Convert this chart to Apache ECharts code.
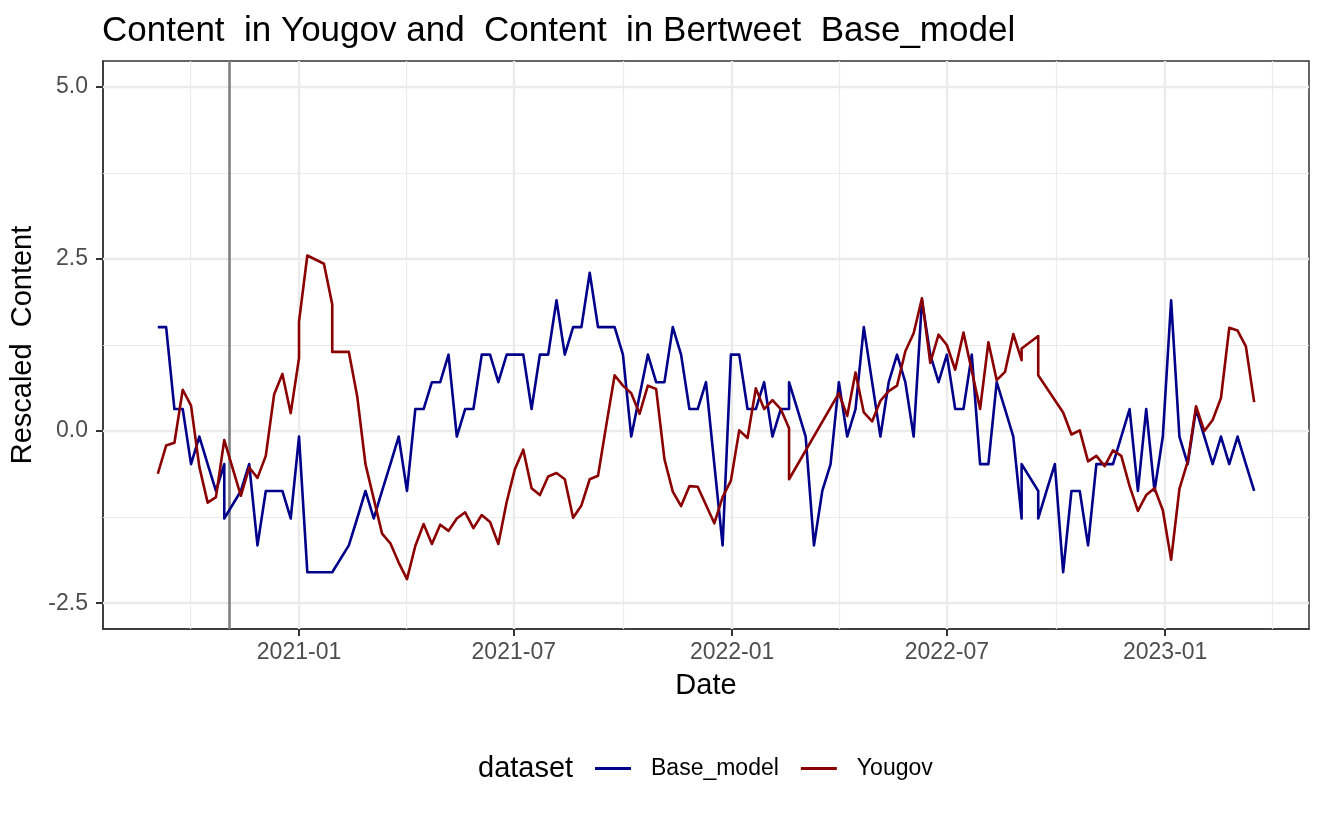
<!DOCTYPE html>
<html><head><meta charset="utf-8">
<script src="https://cdn.jsdelivr.net/npm/echarts@6/dist/echarts.min.js"></script>
<style>html,body{margin:0;padding:0;background:#fff}#c{width:1326px;height:819px}</style>
</head><body><div id="c"></div>
<script>
const baseDates = ['2020-09-04','2020-09-11','2020-09-18','2020-09-25','2020-10-02','2020-10-09','2020-10-16','2020-10-23','2020-10-30','2020-10-30',
'2020-11-13','2020-11-20','2020-11-27','2020-12-04','2020-12-11','2020-12-18','2020-12-25','2021-01-01','2021-01-08','2021-01-15',
'2021-01-22','2021-01-29','2021-02-12','2021-02-19','2021-02-26','2021-03-05','2021-03-12','2021-03-19','2021-03-26','2021-04-02',
'2021-04-09','2021-04-16','2021-04-23','2021-04-30','2021-05-07','2021-05-14','2021-05-21','2021-05-28','2021-06-04','2021-06-11',
'2021-06-18','2021-06-25','2021-07-02','2021-07-09','2021-07-16','2021-07-23','2021-07-30','2021-08-06','2021-08-13','2021-08-20',
'2021-08-27','2021-09-03','2021-09-10','2021-09-17','2021-09-24','2021-10-01','2021-10-08','2021-10-22','2021-10-29','2021-11-05',
'2021-11-12','2021-11-19','2021-11-26','2021-12-03','2021-12-10','2021-12-17','2021-12-24','2021-12-31','2022-01-07','2022-01-14',
'2022-01-21','2022-01-28','2022-02-04','2022-02-11','2022-02-18','2022-02-18','2022-02-25','2022-03-04','2022-03-11','2022-03-18',
'2022-03-25','2022-04-01','2022-04-08','2022-04-15','2022-04-22','2022-04-29','2022-05-06','2022-05-13','2022-05-20','2022-05-27',
'2022-06-03','2022-06-10','2022-06-17','2022-06-24','2022-07-01','2022-07-08','2022-07-15','2022-07-22','2022-07-29','2022-08-05',
'2022-08-12','2022-08-19','2022-08-26','2022-09-02','2022-09-02','2022-09-16','2022-09-16','2022-09-23','2022-09-30','2022-10-07',
'2022-10-14','2022-10-21','2022-10-28','2022-11-04','2022-11-11','2022-11-18','2022-11-25','2022-12-02','2022-12-09','2022-12-16',
'2022-12-23','2022-12-30','2023-01-06','2023-01-13','2023-01-20','2023-01-27','2023-02-03','2023-02-10','2023-02-17','2023-02-24',
'2023-03-03','2023-03-10','2023-03-17'];
const baseValues = [1.51,1.51,0.32,0.32,-0.48,-0.08,-0.48,-0.87,-0.48,-1.27,
-0.87,-0.48,-1.66,-0.87,-0.87,-0.87,-1.27,-0.08,-2.05,-2.05,
-2.05,-2.05,-1.66,-1.27,-0.87,-1.27,-0.87,-0.48,-0.08,-0.87,
0.32,0.32,0.71,0.71,1.11,-0.08,0.32,0.32,1.11,1.11,
0.71,1.11,1.11,1.11,0.32,1.11,1.11,1.90,1.11,1.51,
1.51,2.30,1.51,1.51,1.51,1.11,-0.08,1.11,0.71,0.71,
1.51,1.11,0.32,0.32,0.71,-0.48,-1.66,1.11,1.11,0.32,
0.32,0.71,-0.08,0.32,0.32,0.71,0.32,-0.08,-1.66,-0.87,
-0.48,0.71,-0.08,0.32,1.51,0.71,-0.08,0.71,1.11,0.71,
-0.08,1.90,1.11,0.71,1.11,0.32,0.32,1.11,-0.48,-0.48,
0.71,0.32,-0.08,-1.27,-0.48,-0.87,-1.27,-0.87,-0.48,-2.05,
-0.87,-0.87,-1.66,-0.48,-0.48,-0.48,-0.08,0.32,-0.87,0.32,
-0.87,-0.08,1.90,-0.08,-0.48,0.32,-0.08,-0.48,-0.08,-0.48,
-0.08,-0.48,-0.87];

const yougovDates = ['2020-09-04','2020-09-11','2020-09-18','2020-09-25','2020-10-02','2020-10-09','2020-10-16','2020-10-23','2020-10-30','2020-11-13',
'2020-11-20','2020-11-27','2020-12-04','2020-12-11','2020-12-18','2020-12-25','2021-01-01','2021-01-01','2021-01-08','2021-01-22',
'2021-01-29','2021-01-29','2021-02-05','2021-02-12','2021-02-19','2021-02-26','2021-03-12','2021-03-19','2021-03-26','2021-04-02',
'2021-04-09','2021-04-16','2021-04-23','2021-04-30','2021-05-07','2021-05-14','2021-05-21','2021-05-28','2021-06-04','2021-06-11',
'2021-06-18','2021-06-25','2021-07-02','2021-07-09','2021-07-16','2021-07-23','2021-07-30','2021-08-06','2021-08-13','2021-08-20',
'2021-08-27','2021-09-03','2021-09-10','2021-09-17','2021-09-24','2021-10-01','2021-10-08','2021-10-15','2021-10-22','2021-10-29',
'2021-11-05','2021-11-12','2021-11-19','2021-11-26','2021-12-03','2021-12-17','2021-12-24','2021-12-31','2022-01-07','2022-01-14',
'2022-01-21','2022-01-28','2022-02-04','2022-02-11','2022-02-18','2022-02-18','2022-04-01','2022-04-08','2022-04-15','2022-04-22',
'2022-04-29','2022-05-06','2022-05-13','2022-05-20','2022-05-27','2022-06-03','2022-06-10','2022-06-17','2022-06-24','2022-07-01',
'2022-07-08','2022-07-15','2022-07-29','2022-08-05','2022-08-12','2022-08-19','2022-08-26','2022-09-02','2022-09-02','2022-09-16',
'2022-09-16','2022-10-07','2022-10-14','2022-10-21','2022-10-28','2022-11-04','2022-11-11','2022-11-18','2022-11-25','2022-12-02',
'2022-12-09','2022-12-16','2022-12-23','2022-12-30','2023-01-06','2023-01-13','2023-01-20','2023-01-27','2023-02-03','2023-02-10',
'2023-02-17','2023-02-24','2023-03-03','2023-03-10','2023-03-17'];
const yougovValues = [-0.62,-0.21,-0.17,0.60,0.37,-0.52,-1.04,-0.96,-0.13,-0.94,
-0.53,-0.68,-0.36,0.53,0.83,0.26,1.06,1.59,2.55,2.43,
1.84,1.15,1.15,1.15,0.51,-0.48,-1.49,-1.63,-1.91,-2.15,
-1.67,-1.35,-1.64,-1.36,-1.45,-1.27,-1.18,-1.41,-1.22,-1.32,
-1.64,-1.03,-0.55,-0.27,-0.83,-0.93,-0.66,-0.61,-0.70,-1.26,
-1.08,-0.70,-0.65,0.09,0.81,0.66,0.55,0.25,0.66,0.61,
-0.41,-0.88,-1.09,-0.80,-0.81,-1.34,-0.96,-0.72,0.01,-0.10,
0.62,0.32,0.45,0.32,0.04,-0.70,0.55,0.22,0.85,0.27,
0.14,0.44,0.58,0.66,1.16,1.42,1.93,0.99,1.40,1.25,
0.89,1.43,0.32,1.29,0.74,0.86,1.41,1.03,1.20,1.38,
0.81,0.27,-0.05,0.01,-0.44,-0.36,-0.51,-0.28,-0.36,-0.80,
-1.16,-0.93,-0.83,-1.15,-1.87,-0.84,-0.44,0.36,0.00,0.16,
0.48,1.50,1.46,1.23,0.42];

const xMajorTicks = ['2021-01-01','2021-07-01','2022-01-01','2022-07-01','2023-01-01'];
const xMinorTicks = ['2020-10-01','2021-04-01','2021-10-01','2022-04-01','2022-10-01','2023-04-01'];
const yMajorTicks = [-2.5, 0, 2.5, 5];
const yMinorTicks = [-1.25, 1.25, 3.75];
const yLimits = [-2.5, 5];
const eventDate = '2020-11-03';

function ts(s){ const p = s.split('-').map(Number); return Date.UTC(p[0], p[1]-1, p[2]); }
function pad(n){ return (n < 10 ? '0' : '') + n; }

const FONT = '"Liberation Sans", Arial, Helvetica, sans-serif';
const allT = baseDates.concat(yougovDates).map(ts);
const tMin = Math.min.apply(null, allT), tMax = Math.max.apply(null, allT);
const xPad = 0.05 * (tMax - tMin);
const yPad = 0.05 * (yLimits[1] - yLimits[0]);

const gridLines = [];
yMajorTicks.forEach(v => gridLines.push({yAxis: v, lineStyle: {color: '#EBEBEB', width: 2.4, type: 'solid'}}));
yMinorTicks.forEach(v => gridLines.push({yAxis: v, lineStyle: {color: '#EBEBEB', width: 1.2, type: 'solid'}}));
xMajorTicks.forEach(d => gridLines.push({xAxis: ts(d), lineStyle: {color: '#EBEBEB', width: 2.4, type: 'solid'}}));
xMinorTicks.forEach(d => gridLines.push({xAxis: ts(d), lineStyle: {color: '#EBEBEB', width: 1.2, type: 'solid'}}));

const axisLineStyle = {show: true, onZero: false, lineStyle: {color: '#333', width: 1.5}};

const chart = echarts.init(document.getElementById('c'), null, {renderer: 'canvas'});
chart.setOption({
  animation: false,
  backgroundColor: '#fff',
  textStyle: {fontFamily: FONT},
  title: {
    text: 'Content  in Yougov and  Content  in Bertweet  Base_model',
    left: 97, top: 9,
    textStyle: {fontSize: 35, fontWeight: 'normal', color: '#000', fontFamily: FONT}
  },
  grid: {left: 103, right: 17, top: 61, bottom: 190, show: true, borderColor: '#333', borderWidth: 1.5, backgroundColor: 'transparent'},
  xAxis: {
    type: 'value', min: tMin - xPad, max: tMax + xPad, scale: true,
    axisLine: axisLineStyle,
    axisTick: {show: true, inside: false, length: 7, lineStyle: {color: '#333', width: 2}, customValues: xMajorTicks.map(ts)},
    axisLabel: {customValues: xMajorTicks.map(ts), fontSize: 23, color: '#4D4D4D', margin: 12, fontFamily: FONT,
      formatter: v => { const d = new Date(v); return d.getUTCFullYear() + '-' + pad(d.getUTCMonth() + 1); }},
    splitLine: {show: false},
    name: 'Date', nameLocation: 'middle', nameGap: 42,
    nameTextStyle: {fontSize: 29, color: '#000', fontFamily: FONT}
  },
  yAxis: {
    type: 'value', min: yLimits[0] - yPad, max: yLimits[1] + yPad,
    axisLine: axisLineStyle,
    axisTick: {show: true, inside: false, length: 7, lineStyle: {color: '#333', width: 2}, customValues: yMajorTicks},
    axisLabel: {customValues: yMajorTicks, fontSize: 23, color: '#4D4D4D', margin: 15, fontFamily: FONT,
      formatter: v => Number(v).toFixed(1)},
    splitLine: {show: false},
    name: 'Rescaled  Content', nameLocation: 'middle', nameGap: 58,
    nameTextStyle: {fontSize: 29, color: '#000', fontFamily: FONT}
  },
  legend: {
    left: 590, top: 752, icon: 'rect', itemWidth: 36, itemHeight: 3, itemGap: 22,
    textStyle: {fontSize: 23, color: '#000', fontFamily: FONT, padding: [0, 0, 0, 15]},
    data: ['Base_model', 'Yougov']
  },
  graphic: [{type: 'text', left: 478, top: 754, style: {text: 'dataset', fontSize: 29, fill: '#000', fontFamily: FONT}}],
  series: [
    {name: 'grid', type: 'line', data: [], silent: true, z: 1,
     markLine: {silent: true, symbol: ['none', 'none'], label: {show: false}, animation: false, data: gridLines}},
    {name: 'event', type: 'line', data: [], silent: true, z: 3,
     markLine: {silent: true, symbol: ['none', 'none'], label: {show: false}, animation: false,
       data: [{xAxis: ts(eventDate), lineStyle: {color: '#808080', width: 2.6, type: 'solid'}}]}},
    {name: 'Base_model', type: 'line', z: 5, symbol: 'none', showSymbol: false,
     data: baseDates.map((d, i) => [ts(d), baseValues[i]]),
     lineStyle: {color: '#00008B', width: 2.6, join: 'round'}, itemStyle: {color: '#00008B'}},
    {name: 'Yougov', type: 'line', z: 5, symbol: 'none', showSymbol: false,
     data: yougovDates.map((d, i) => [ts(d), yougovValues[i]]),
     lineStyle: {color: '#8B0000', width: 2.6, join: 'round'}, itemStyle: {color: '#8B0000'}}
  ]
});
</script></body></html>
